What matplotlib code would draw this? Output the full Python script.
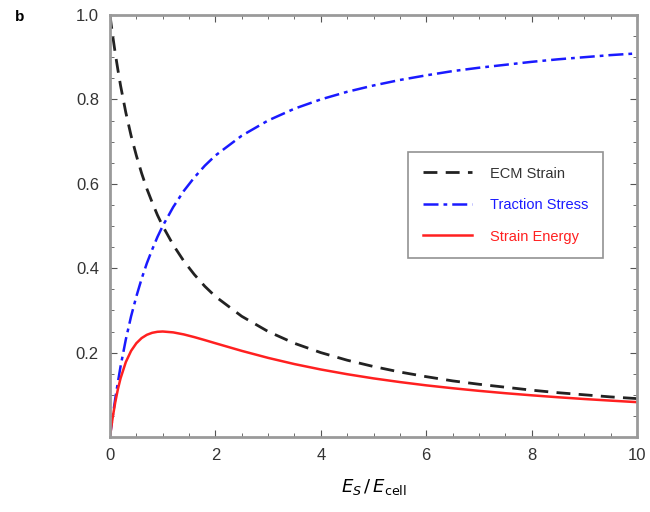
import matplotlib
matplotlib.use("Agg")
import matplotlib.pyplot as plt
from matplotlib.ticker import MultipleLocator

plt.rcParams['font.family'] = ['Liberation Sans', 'DejaVu Sans']

# stiffness ratio E_S / E_cell
ratio = [0, 0.02, 0.05, 0.1, 0.15, 0.2, 0.3, 0.4, 0.5, 0.6, 0.7, 0.8, 0.9, 1.0,
         1.2, 1.4, 1.6, 1.8, 2.0, 2.5, 3.0, 3.5, 4.0, 4.5, 5.0, 5.5, 6.0, 6.5,
         7.0, 7.5, 8.0, 8.5, 9.0, 9.5, 10.0]

ecm_strain = [1.000, 0.980, 0.952, 0.909, 0.870, 0.833, 0.769, 0.714, 0.667,
              0.625, 0.588, 0.556, 0.526, 0.500, 0.455, 0.417, 0.385, 0.357,
              0.333, 0.286, 0.250, 0.222, 0.200, 0.182, 0.167, 0.154, 0.143,
              0.133, 0.125, 0.118, 0.111, 0.105, 0.100, 0.095, 0.091]

traction_stress = [0.000, 0.020, 0.048, 0.091, 0.130, 0.167, 0.231, 0.286,
                   0.333, 0.375, 0.412, 0.444, 0.474, 0.500, 0.545, 0.583,
                   0.615, 0.643, 0.667, 0.714, 0.750, 0.778, 0.800, 0.818,
                   0.833, 0.846, 0.857, 0.867, 0.875, 0.882, 0.889, 0.895,
                   0.900, 0.905, 0.909]

strain_energy = [0.000, 0.0196, 0.0454, 0.0826, 0.1134, 0.1389, 0.1775, 0.2041,
                 0.2222, 0.2344, 0.2422, 0.2469, 0.2493, 0.2500, 0.2479,
                 0.2431, 0.2367, 0.2296, 0.2222, 0.2041, 0.1875, 0.1728,
                 0.1600, 0.1488, 0.1389, 0.1302, 0.1224, 0.1156, 0.1094,
                 0.1038, 0.0988, 0.0942, 0.0900, 0.0862, 0.0826]

y_ticks = [0.2, 0.4, 0.6, 0.8, 1.0]
x_ticks = [0, 2, 4, 6, 8, 10]

fig = plt.figure(figsize=(6.5, 5.12), dpi=100)
ax = fig.add_axes([110 / 650, 1 - 437 / 512, 527 / 650, 422 / 512])

ax.plot(ratio, ecm_strain, color='#222222', lw=2.0, ls=(0, (5, 3)),
        label='ECM Strain')
ax.plot(ratio, traction_stress, color='#1a1aff', lw=1.8,
        ls=(0, (6, 2, 1.5, 2)), label='Traction Stress')
ax.plot(ratio, strain_energy, color='#ff2020', lw=1.8, label='Strain Energy')

ax.set_xlim(0, 10)
ax.set_ylim(0, 1)
ax.set_xticks(x_ticks)
ax.set_yticks(y_ticks)
ax.set_yticklabels([f'{v:.1f}' for v in y_ticks])
ax.xaxis.set_minor_locator(MultipleLocator(0.5))
ax.yaxis.set_minor_locator(MultipleLocator(0.05))
ax.tick_params(which='both', direction='in', top=True, right=True,
               color='#555555', labelsize=12, labelcolor='#333333', pad=8)
ax.tick_params(which='major', length=5, width=0.8)
ax.tick_params(which='minor', length=3, width=0.6)
for sp in ax.spines.values():
    sp.set_color('#9a9a9a')
    sp.set_linewidth(2.0)

ax.set_xlabel(r'$E_S\,/\,E_{\mathrm{cell}}$', fontsize=13, labelpad=10)

leg = ax.legend(loc='upper left', bbox_to_anchor=(298 / 527, (437 - 152) / 422),
                borderaxespad=0, fontsize=10.5, frameon=True, fancybox=False,
                handlelength=3.4, borderpad=1.0, labelspacing=1.2,
                handletextpad=1.2, edgecolor='#777777')
leg.get_frame().set_linewidth(1.2)
for txt, col in zip(leg.get_texts(), ['#333333', '#1a1aff', '#ff2020']):
    txt.set_color(col)

fig.text(15 / 650, 1 - 17 / 512, 'b', fontsize=11, fontweight='bold',
         va='center', ha='left')

fig.savefig('out.png', dpi=100)
